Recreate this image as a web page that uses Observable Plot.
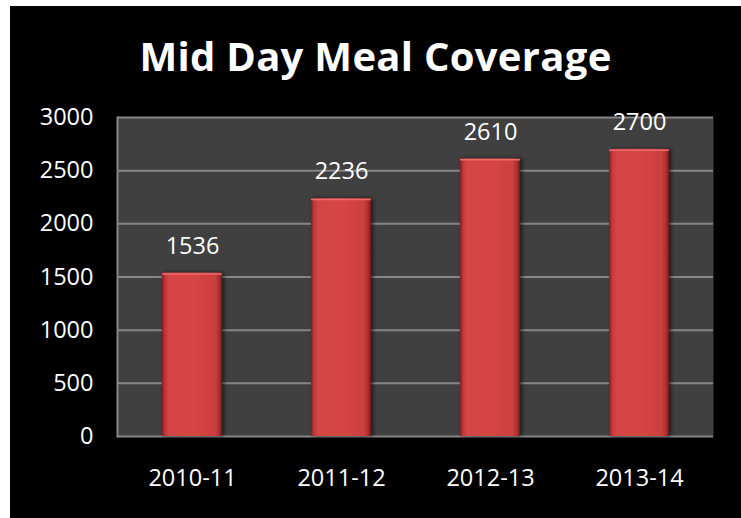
<!DOCTYPE html>
<html>
<head>
<meta charset="utf-8">
<script src="https://cdn.jsdelivr.net/npm/d3@7"></script>
<script src="https://cdn.jsdelivr.net/npm/@observablehq/plot@0.6"></script>
<style>
  html, body { margin: 0; padding: 0; background: #ffffff; width: 741px; height: 518px; overflow: hidden; }
  #bg { position: absolute; left: 10px; top: 6px; width: 731px; height: 512px; background: #000; }
  #title { position: absolute; left: 10px; top: 30px; width: 731px; text-align: center; color: #fff;
           font-family: "Open Sans", sans-serif; font-weight: 700; font-size: 40px; line-height: 52px; letter-spacing: 0.3px; }
  #chart { position: absolute; left: 0; top: 90px; }
</style>
</head>
<body>
<div id="bg"></div>
<div id="title">Mid Day Meal Coverage</div>
<div id="chart"></div>
<script>
const categories = ["2010-11", "2011-12", "2012-13", "2013-14"];
const values = [1536, 2236, 2610, 2700];
const yTicks = [0, 500, 1000, 1500, 2000, 2500, 3000];

const data = categories.map((c, i) => ({category: c, value: values[i]}));

const chart = Plot.plot({
  width: 741,
  height: 428,
  marginLeft: 117,
  marginRight: 28,
  marginTop: 27,
  marginBottom: 82,
  style: {background: "transparent", color: "#fff", fontFamily: "'Open Sans', sans-serif", fontSize: "23.5px"},
  x: {domain: categories, paddingInner: 0.6, paddingOuter: 0.3, label: null},
  y: {domain: [0, 3000], ticks: yTicks, label: null},
  marks: [
    Plot.frame({fill: "#404040", stroke: null}),
    Plot.gridY(yTicks, {stroke: "#868686", strokeOpacity: 1, strokeWidth: 2}),
    Plot.frame({anchor: "left", stroke: "#868686", strokeWidth: 2}),
    Plot.barY(data, {x: "category", y: "value", fill: "url(#barGrad)"}),
    Plot.tickY(data, {x: "category", y: "value", stroke: "url(#bevelGrad)", strokeWidth: 10, dy: 5, insetLeft: 3, insetRight: 3}),
    Plot.tickY(data, {x: "category", y: "value", stroke: "#f06a6a", strokeWidth: 1.5, dy: 0.75}),
    Plot.axisX({tickSize: 0, tickPadding: 33, fontSize: 23.5, fill: "#fff"}),
    Plot.axisY({ticks: yTicks, tickSize: 0, tickPadding: 24, fontSize: 23.5, fill: "#fff", tickFormat: d => String(d)}),
    Plot.text(data, {x: "category", y: "value", text: d => String(d.value), dy: -27, fill: "#fff", fontSize: 23.5})
  ]
});

const svg = d3.select(chart);
const defs = svg.insert("defs", ":first-child");
const g = defs.append("linearGradient").attr("id", "barGrad").attr("x1", "0").attr("x2", "1").attr("y1", "0").attr("y2", "0");
[["0%", "#7e2020"], ["5%", "#c03838"], ["12%", "#d44444"], ["50%", "#d84545"], ["88%", "#cc3f3f"], ["95%", "#b03030"], ["100%", "#6a1a1a"]]
  .forEach(([o, c]) => g.append("stop").attr("offset", o).attr("stop-color", c));
const b = defs.append("linearGradient").attr("id", "bevelGrad").attr("x1", "0").attr("x2", "1").attr("y1", "0").attr("y2", "0");
[["0%", "#d04848"], ["12%", "#e65a5a"], ["88%", "#e65a5a"], ["100%", "#c84444"]]
  .forEach(([o, c]) => b.append("stop").attr("offset", o).attr("stop-color", c));
const f = defs.append("filter").attr("id", "shadow").attr("x", "-20%").attr("y", "-10%").attr("width", "140%").attr("height", "120%");
f.append("feDropShadow").attr("dx", 2).attr("dy", 0).attr("stdDeviation", 2).attr("flood-color", "#000").attr("flood-opacity", 0.6);
svg.selectAll("g[aria-label='bar'] rect").attr("filter", "url(#shadow)");

document.getElementById("chart").appendChild(chart);
</script>
</body>
</html>
